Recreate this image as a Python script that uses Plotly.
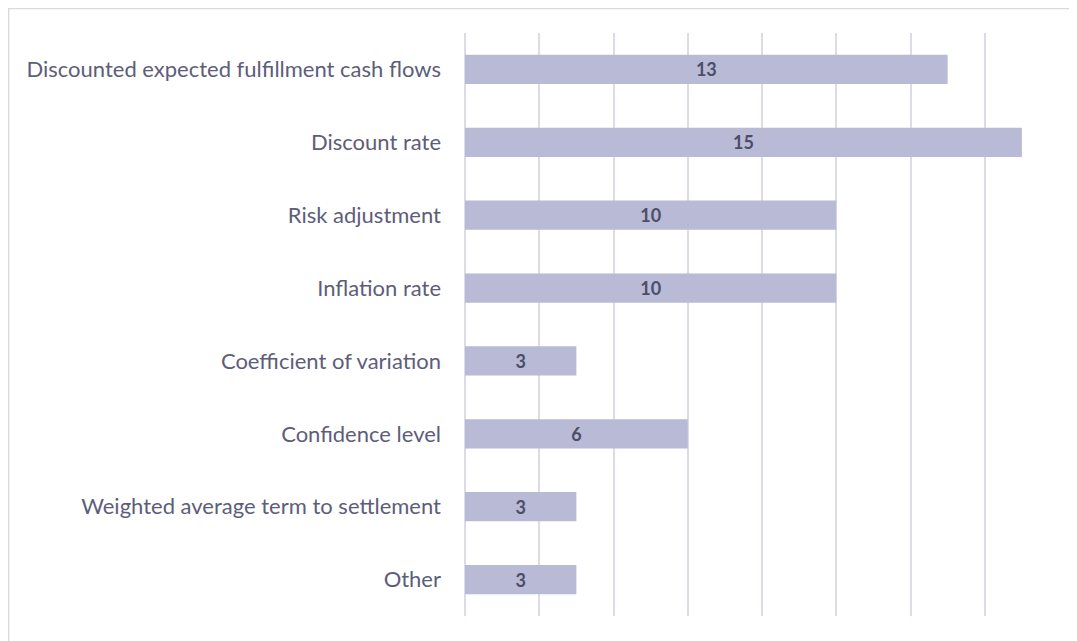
import plotly.graph_objects as go

categories = ["Discounted expected fulfillment cash flows", "Discount rate", "Risk adjustment",
              "Inflation rate", "Coefficient of variation", "Confidence level",
              "Weighted average term to settlement", "Other"]
values = [13, 15, 10, 10, 3, 6, 3, 3]

# page body has an 8px margin; size the figure to fill the rest of the window
W, H = 1069, 633
L, R, T, B = 457, 18, 25, 25
pw, ph = W - L - R, H - T - B

fig = go.Figure(go.Bar(
    x=values, y=categories, orientation="h",
    marker=dict(color="#b8bad6", line=dict(width=0)),
    width=0.4,
    text=[str(v) for v in values], textposition="inside", insidetextanchor="middle",
    textfont=dict(family="Lato", size=18, color="#4d4d68", weight="bold"),
    cliponaxis=False,
))

fig.update_layout(
    width=W, height=H,
    margin=dict(l=L, r=R, t=T, b=B, pad=0),
    plot_bgcolor="white", paper_bgcolor="white",
    showlegend=False,
    font=dict(family="Lato", size=22, color="#5d5d7a"),
    xaxis=dict(range=[0, 16], dtick=2, showticklabels=False, showgrid=True,
               gridcolor="#dcdce6", gridwidth=2, zeroline=True, zerolinecolor="#dcdce6",
               zerolinewidth=2, showline=False, ticks=""),
    yaxis=dict(range=[7.5, -0.5], autorange=False, showgrid=False, ticks="",
               showline=False, ticklabelstandoff=23),
    shapes=[dict(type="rect", xref="paper", yref="paper",
                 x0=-L / pw + 0.001, x1=1.2, y0=-0.3, y1=1 + T / ph - 0.001,
                 line=dict(color="#d9d9e1", width=1.5), layer="below")],
)

fig.write_html("out.html")
